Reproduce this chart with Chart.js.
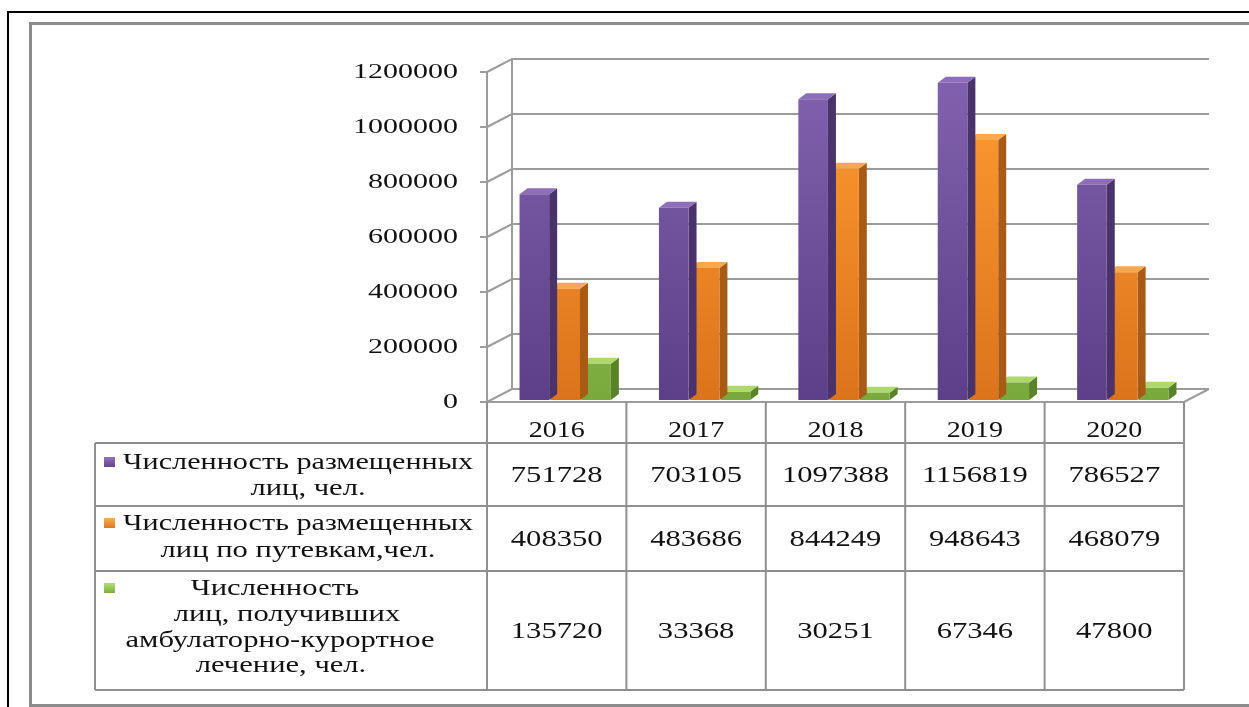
<!DOCTYPE html>
<html><head><meta charset="utf-8">
<script src="https://cdn.jsdelivr.net/npm/chart.js@4.4.1/dist/chart.umd.min.js"></script>
<style>html,body{margin:0;padding:0;background:#fff;overflow:hidden}#wrap{position:relative;width:1249px;height:707px}
#probe{position:absolute;left:-1000px;top:0;font-family:"Liberation Serif";font-size:23px}</style>
</head><body><div id="wrap"><canvas id="c" width="1249" height="707"></canvas></div>
<div id="probe">Численность 0123456789</div>
<script>
// ---- data ----
const years = ['2016', '2017', '2018', '2019', '2020'];
const placedPeople = [751728, 703105, 1097388, 1156819, 786527];
const voucherPeople = [408350, 483686, 844249, 948643, 468079];
const outpatientPeople = [135720, 33368, 30251, 67346, 47800];
const seriesLabels = [
  ['Численность размещенных', 'лиц, чел.'],
  ['Численность размещенных', 'лиц по путевкам,чел.'],
  ['Численность', 'лиц, получивших', 'амбулаторно-курортное', 'лечение, чел.']
];
const yMin = 0, yMax = 1200000, yStep = 200000;

// ---- styling ----
const FONT = '"Liberation Serif", "Times New Roman", serif';
const colors = [
  {top: '#8262AF', bottom: '#5C3F86', side: '#4A326B', cap: '#8E6EB8'},
  {top: '#FF9D33', bottom: '#DB731B', side: '#A85B15', cap: '#F9A84E'},
  {top: '#A2CF5C', bottom: '#79A83C', side: '#5A8329', cap: '#AED86C'}
];
const DEPTH_X = 8, DEPTH_Y = 6;     // bar 3D depth
const WALL_X = 25, WALL_Y = 13;     // back wall offset
const GRID = '#9c9c9c';

function frontGradient(idx) {
  return (c) => {
    const chart = c.chart, ca = chart.chartArea;
    if (!ca) return colors[idx].top;
    const g = chart.ctx.createLinearGradient(0, ca.top, 0, ca.bottom);
    g.addColorStop(0, colors[idx].top);
    g.addColorStop(1, colors[idx].bottom);
    return g;
  };
}

function stretchedText(ctx, text, x, y, sx, align, size) {
  ctx.save();
  ctx.font = size + 'px ' + FONT;
  ctx.translate(x, y);
  ctx.scale(sx, 1);
  ctx.textAlign = align;
  ctx.textBaseline = 'middle';
  ctx.fillStyle = '#111';
  ctx.fillText(text, 0, 0);
  ctx.restore();
}

const BAR_SHIFT_X = 8.5, BAR_SHIFT_Y = -1;

const chart3d = {
  id: 'chart3d',
  beforeDraw(chart) {
    const ctx = chart.ctx;
    const y = chart.scales.y, ca = chart.chartArea;
    ctx.save();
    ctx.fillStyle = '#fff';
    ctx.fillRect(0, 0, chart.width, chart.height);
    ctx.strokeStyle = '#000'; ctx.lineWidth = 2;
    ctx.beginPath(); ctx.moveTo(8, 707); ctx.lineTo(8, 12); ctx.lineTo(1249, 12); ctx.stroke();
    ctx.strokeStyle = '#8c8c8c'; ctx.lineWidth = 3;
    ctx.beginPath(); ctx.moveTo(1252, 23.5); ctx.lineTo(30.5, 23.5); ctx.lineTo(30.5, 705.5); ctx.lineTo(1252, 705.5); ctx.stroke();
    ctx.strokeStyle = GRID; ctx.lineWidth = 2;
    const wallL = ca.left + WALL_X, wallR = ca.right + WALL_X;
    y.ticks.forEach(t => {
      const py = y.getPixelForValue(t.value);
      ctx.beginPath();
      ctx.moveTo(ca.left, py);
      ctx.lineTo(wallL, py - WALL_Y);
      ctx.lineTo(wallR, py - WALL_Y);
      ctx.stroke();
    });
    const top = y.getPixelForValue(yMax), bot = y.getPixelForValue(yMin);
    ctx.beginPath(); ctx.moveTo(wallL, top - WALL_Y); ctx.lineTo(wallL, bot - WALL_Y); ctx.stroke();
    ctx.beginPath();
    ctx.moveTo(ca.left, bot); ctx.lineTo(ca.right, bot); ctx.lineTo(wallR, bot - WALL_Y);
    ctx.stroke();
    ctx.restore();
  },
  beforeDatasetsDraw(chart) {
    chart.ctx.save();
    chart.ctx.translate(BAR_SHIFT_X, BAR_SHIFT_Y);
  },
  beforeDatasetDraw(chart, args) {
    const ctx = chart.ctx, col = colors[args.index];
    args.meta.data.forEach(el => {
      const p = el.getProps(['x', 'y', 'base', 'width'], true);
      const x0 = p.x - p.width / 2, x1 = p.x + p.width / 2;
      const top = Math.min(p.y, p.base), bot = Math.max(p.y, p.base);
      ctx.fillStyle = col.side;
      ctx.beginPath();
      ctx.moveTo(x1, top); ctx.lineTo(x1 + DEPTH_X, top - DEPTH_Y);
      ctx.lineTo(x1 + DEPTH_X, bot - DEPTH_Y); ctx.lineTo(x1, bot); ctx.closePath(); ctx.fill();
      ctx.fillStyle = col.cap;
      ctx.beginPath();
      ctx.moveTo(x0, top); ctx.lineTo(x1, top);
      ctx.lineTo(x1 + DEPTH_X, top - DEPTH_Y); ctx.lineTo(x0 + DEPTH_X, top - DEPTH_Y);
      ctx.closePath(); ctx.fill();
    });
  },
  afterDatasetsDraw(chart) {
    chart.ctx.restore();
  },
  afterDraw(chart) {
    const ctx = chart.ctx, y = chart.scales.y, x = chart.scales.x, ca = chart.chartArea;
    y.ticks.forEach(t => {
      stretchedText(ctx, t.label, 458, y.getPixelForValue(t.value) + 1, 1.5, 'right', 20);
    });
    const half = (x.getPixelForValue(1) - x.getPixelForValue(0)) / 2;
    const bounds = [ca.left];
    years.forEach((_, i) => bounds.push(x.getPixelForValue(i) + half));
    const tableL = 95, tableR = bounds[bounds.length - 1];
    const rowY = [ca.bottom, 443, 506, 571, 690];
    ctx.save();
    ctx.strokeStyle = '#8f8f8f'; ctx.lineWidth = 2;
    ctx.beginPath();
    for (let r = 1; r < rowY.length; r++) { ctx.moveTo(tableL, rowY[r]); ctx.lineTo(tableR, rowY[r]); }
    ctx.moveTo(tableL, rowY[1]); ctx.lineTo(tableL, rowY[4]);
    bounds.forEach(b => { ctx.moveTo(b, rowY[0]); ctx.lineTo(b, rowY[4]); });
    ctx.stroke();
    ctx.restore();
    years.forEach((yr, i) => stretchedText(ctx, yr, x.getPixelForValue(i), 431, 1.22, 'center', 23));
    const valueRows = [placedPeople, voucherPeople, outpatientPeople];
    const valueY = [476, 540, 632];
    valueRows.forEach((vals, r) => vals.forEach((v, i) =>
      stretchedText(ctx, String(v), x.getPixelForValue(i), valueY[r], 1.33, 'center', 23)));
    const lineY = [[463, 489], [524, 551], [589, 615, 641, 666]];
    const lineCx = [[null, 308], [null, 298], [275, 287, 280, 281]];
    seriesLabels.forEach((lines, r) => {
      const sqY = lineY[r][0];
      const g = ctx.createLinearGradient(0, sqY - 5, 0, sqY + 5);
      g.addColorStop(0, colors[r].cap); g.addColorStop(1, colors[r].bottom);
      ctx.fillStyle = g;
      ctx.fillRect(104, sqY - 6, 11, 10);
      lines.forEach((txt, k) => {
        if (lineCx[r][k] === null) {
          ctx.save(); ctx.font = '23px ' + FONT;
          const w = ctx.measureText(txt).width; ctx.restore();
          stretchedText(ctx, txt, 123, lineY[r][k], 350 / w, 'left', 23);
        } else {
          stretchedText(ctx, txt, lineCx[r][k], lineY[r][k], 1.33, 'center', 23);
        }
      });
    });
  }
};

function build() {
  new Chart(document.getElementById('c'), {
    type: 'bar',
    data: {
      labels: years,
      datasets: [
        {label: seriesLabels[0].join(' '), data: placedPeople, backgroundColor: frontGradient(0)},
        {label: seriesLabels[1].join(' '), data: voucherPeople, backgroundColor: frontGradient(1)},
        {label: seriesLabels[2].join(' '), data: outpatientPeople, backgroundColor: frontGradient(2)}
      ]
    },
    options: {
      responsive: false,
      devicePixelRatio: 1,
      animation: false,
      events: [],
      layout: {padding: {left: 0, right: 65, top: 72, bottom: 305}},
      datasets: {bar: {categoryPercentage: 0.664, barPercentage: 0.96, borderWidth: 0, clip: false}},
      plugins: {legend: {display: false}, tooltip: {enabled: false}},
      scales: {
        x: {display: false},
        y: {
          min: yMin, max: yMax,
          ticks: {stepSize: yStep, display: false, callback: v => String(v)},
          grid: {drawOnChartArea: false, tickLength: 7, color: GRID, lineWidth: 2},
          border: {display: true, color: GRID, width: 2},
          afterFit: s => { s.width = 487; }
        }
      }
    },
    plugins: [chart3d]
  });
}
if (document.fonts && document.fonts.load) {
  Promise.all([
    document.fonts.load('23px "Liberation Serif"', 'Численность 0123'),
    document.fonts.load('20px "Liberation Serif"', '0123')
  ]).then(build, build);
} else { build(); }
</script>
</body></html>
